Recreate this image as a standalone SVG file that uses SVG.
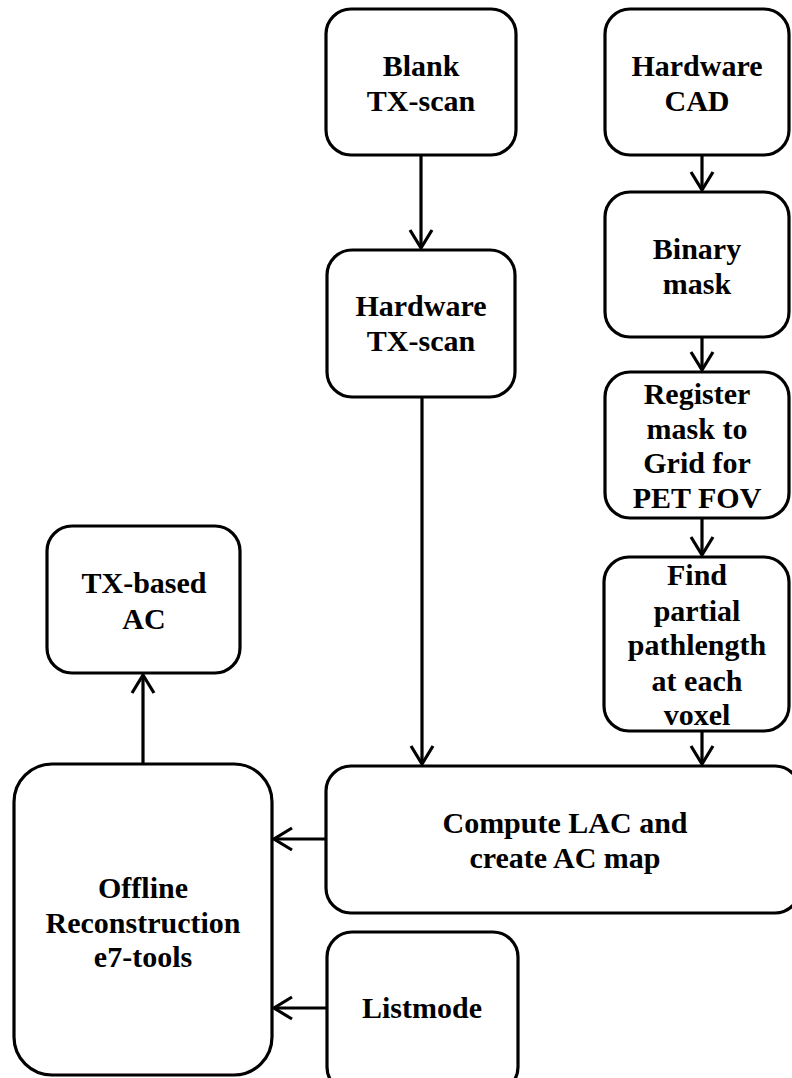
<svg xmlns="http://www.w3.org/2000/svg" width="792" height="1078" viewBox="0 0 792 1078">
<style>
.box{fill:#fff;stroke:#000;stroke-width:3.2}
.lbl{font-family:"Liberation Serif","Times New Roman",serif;font-weight:bold;font-size:30px;fill:#000;text-anchor:middle}
.conn{fill:none;stroke:#000;stroke-width:3.2}
</style>
<defs>
<marker id="arr" markerUnits="userSpaceOnUse" viewBox="-20 -14 24 28" markerWidth="24" markerHeight="28" refX="0" refY="0" orient="auto" overflow="visible">
<path d="M-18,-11 L0,0 L-18,11" fill="none" stroke="#000" stroke-width="3.2"/>
</marker>
</defs>
<rect width="792" height="1078" fill="#fff"/>
<g id="connectors">
<line class="conn" x1="421" y1="155" x2="421" y2="248" marker-end="url(#arr)"/>
<line class="conn" x1="702" y1="155" x2="702" y2="190" marker-end="url(#arr)"/>
<line class="conn" x1="702" y1="337" x2="702" y2="370" marker-end="url(#arr)"/>
<line class="conn" x1="702" y1="518" x2="702" y2="555" marker-end="url(#arr)"/>
<line class="conn" x1="702" y1="731" x2="702" y2="764" marker-end="url(#arr)"/>
<line class="conn" x1="422" y1="397" x2="422" y2="764" marker-end="url(#arr)"/>
<line class="conn" x1="326" y1="839" x2="274" y2="839" marker-end="url(#arr)"/>
<line class="conn" x1="327" y1="1008" x2="274" y2="1008" marker-end="url(#arr)"/>
<line class="conn" x1="143" y1="764" x2="143" y2="675" marker-end="url(#arr)"/>
</g>
<g id="blank-tx">
<rect class="box" x="326" y="9" width="190" height="146" rx="25"/>
<text class="lbl" x="421" y="76">Blank</text>
<text class="lbl" x="421" y="111">TX-scan</text>
</g>
<g id="hardware-cad">
<rect class="box" x="605" y="9" width="184" height="146" rx="25"/>
<text class="lbl" x="697" y="76">Hardware</text>
<text class="lbl" x="697" y="111">CAD</text>
</g>
<g id="hardware-tx">
<rect class="box" x="327" y="250" width="188" height="147" rx="25"/>
<text class="lbl" x="421" y="316">Hardware</text>
<text class="lbl" x="421" y="351">TX-scan</text>
</g>
<g id="binary-mask">
<rect class="box" x="605" y="192" width="184" height="145" rx="25"/>
<text class="lbl" x="697" y="259">Binary</text>
<text class="lbl" x="697" y="294">mask</text>
</g>
<g id="register">
<rect class="box" x="605" y="372" width="184" height="146" rx="25"/>
<text class="lbl" x="697" y="404">Register</text>
<text class="lbl" x="697" y="439">mask to</text>
<text class="lbl" x="697" y="473">Grid for</text>
<text class="lbl" x="697" y="508">PET FOV</text>
</g>
<g id="find-pathlength">
<rect class="box" x="604" y="557" width="185" height="174" rx="25"/>
<text class="lbl" x="697" y="585">Find</text>
<text class="lbl" x="697" y="621">partial</text>
<text class="lbl" x="697" y="655">pathlength</text>
<text class="lbl" x="697" y="691">at each</text>
<text class="lbl" x="697" y="725">voxel</text>
</g>
<g id="tx-based-ac">
<rect class="box" x="47" y="526" width="193" height="147" rx="25"/>
<text class="lbl" x="144" y="593">TX-based</text>
<text class="lbl" x="144" y="629">AC</text>
</g>
<g id="compute-lac">
<rect class="box" x="326" y="766" width="474" height="147" rx="25"/>
<text class="lbl" x="565" y="833">Compute LAC and</text>
<text class="lbl" x="565" y="868">create AC map</text>
</g>
<g id="offline-recon">
<rect class="box" x="14" y="764" width="258" height="311" rx="38"/>
<text class="lbl" x="143" y="898">Offline</text>
<text class="lbl" x="143" y="933">Reconstruction</text>
<text class="lbl" x="143" y="967">e7-tools</text>
</g>
<g id="listmode">
<rect class="box" x="327" y="932" width="191" height="160" rx="25"/>
<text class="lbl" x="422" y="1018">Listmode</text>
</g>
</svg>
